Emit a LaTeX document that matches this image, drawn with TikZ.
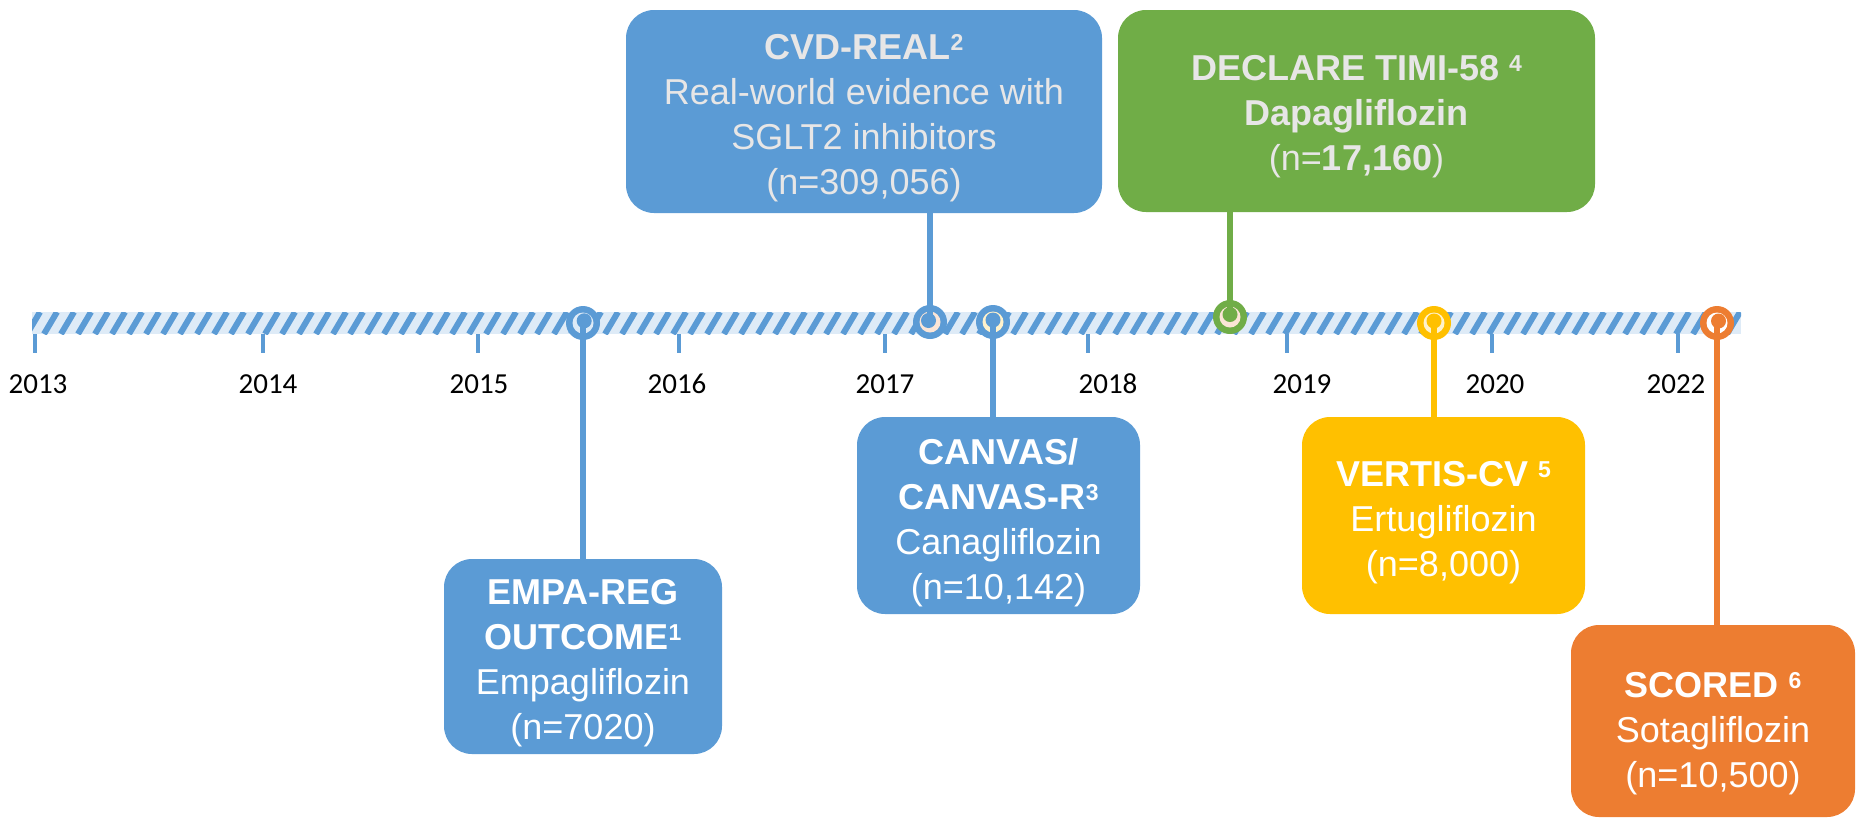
\documentclass[tikz,border=0pt]{standalone}
\usepackage{fontspec}
\setmainfont{Liberation Sans}
\newfontfamily\yearfont{Carlito}
\definecolor{tlblue}{HTML}{5B9BD5}
\definecolor{tlgreen}{HTML}{70AD47}
\definecolor{tlyellow}{HTML}{FFC000}
\definecolor{tlorange}{HTML}{ED7D31}
\definecolor{barlight}{HTML}{DEEBF7}
\definecolor{peach}{HTML}{FBE5D6}
\definecolor{cream}{HTML}{FFF2CC}
\definecolor{paletext}{HTML}{E7E6E6}
\newcommand\sups[1]{\raisebox{9pt}{\fontsize{23}{23}\selectfont #1}}
\tikzset{
  trialbox/.style={rectangle, rounded corners=28pt, inner sep=0pt},
  trialtext/.style={inner sep=0pt, align=center, text=white,
    font=\fontsize{36}{45}\selectfont},
  pin/.style={circle, inner sep=0pt, minimum size=34pt},
  stem/.style={line width=5.5pt},
  tick/.style={tlblue, line width=4pt},
  yearlabel/.style={font=\yearfont\fontsize{29}{32}\selectfont, text=black, inner sep=0pt}
}
\begin{document}
\begin{tikzpicture}[x=1pt, y=-1pt]
\useasboundingbox (0,0) rectangle (1862,820);

% hatched time bar
\fill[barlight] (32,312) rectangle (1741,334);
\begin{scope}
  \clip (32,312) rectangle (1741,334);
  \foreach \x in {10,27,...,1760}
    \draw[tlblue, line width=6pt] (\x,334) -- ++(13,-22);
\end{scope}

% year ticks and labels
\foreach \tx/\lx/\yr in {35/38/2013, 263/268/2014, 478/479/2015, 679/677/2016,
                         885/885/2017, 1088/1108/2018, 1287/1302/2019,
                         1492/1495/2020, 1678/1676/2022}{
  \draw[tick] (\tx,334) -- (\tx,353);
  \node[yearlabel] (y\yr) at (\lx,384) {\yr};
}

% trial boxes
\node[trialbox, fill=tlblue, minimum width=476pt, minimum height=203pt]
  (cvd) at (864,111.5) {};
\node[trialbox, fill=tlgreen, minimum width=477pt, minimum height=202pt]
  (declare) at (1356.5,111) {};
\node[trialbox, fill=tlblue, minimum width=278pt, minimum height=195pt]
  (empa) at (583,656.5) {};
\node[trialbox, fill=tlblue, minimum width=283pt, minimum height=197pt]
  (canvas) at (998.5,515.5) {};
\node[trialbox, fill=tlyellow, minimum width=283pt, minimum height=197pt]
  (vertis) at (1443.5,515.5) {};
\node[trialbox, fill=tlorange, minimum width=284pt, minimum height=192pt]
  (scored) at (1713,721) {};

% box texts
\node[trialtext, text=paletext] (cvdtext) at (864,118)
  {{\bfseries CVD-REAL\sups{2}}\\Real-world evidence with\\SGLT2 inhibitors\\(n=309,056)};
\node[trialtext, text=paletext] (declaretext) at (1356.5,117)
  {{\bfseries DECLARE TIMI-58 \sups{4}}\\{\bfseries Dapagliflozin}\\(n={\bfseries 17,160})};
\node[trialtext] (empatext) at (583,663)
  {{\bfseries EMPA-REG}\\{\bfseries OUTCOME\sups{1}}\\Empagliflozin\\(n=7020)};
\node[trialtext] (canvastext) at (998.5,523)
  {{\bfseries CANVAS/}\\{\bfseries CANVAS-R\sups{3}}\\Canagliflozin\\(n=10,142)};
\node[trialtext] (vertistext) at (1443.5,523)
  {{\bfseries VERTIS-CV \sups{5}}\\Ertugliflozin\\(n=8,000)};
\node[trialtext] (scoredtext) at (1713,734)
  {{\bfseries SCORED \sups{6}}\\Sotagliflozin\\(n=10,500)};

% pins on the time bar: outer disc, pale crescent, inner disc
\foreach \n/\px/\py/\col/\pale/\dx/\dy in {
    m1/583/323/tlblue/barlight/1.2/-2.2,
    m2/930/322/tlblue/peach/-1.5/-1.5,
    m3/993/322/tlblue/cream/0/-2,
    m4/1230/317/tlgreen/peach/0/-2.5,
    m5/1434/323/tlyellow/cream/0/-2,
    m6/1717/323/tlorange/white/1.5/-2}{
  \node[pin, fill=\col] (\n) at (\px,\py) {};
  \fill[\pale] (\n.center) circle (10.5pt);
  \fill[\col] ([shift={(\dx,\dy)}]\n.center) circle (7.5pt);
}

% stems from pins to boxes
\draw[stem, tlblue] (m1.center) -- (m1.center |- empa.north);
\draw[stem, tlblue] (m2.center) -- (m2.center |- cvd.south);
\draw[stem, tlblue] (m3.center) -- (m3.center |- canvas.north);
\draw[stem, tlgreen] (m4.center) -- (m4.center |- declare.south);
\draw[stem, tlyellow] (m5.center) -- (m5.center |- vertis.north);
\draw[stem, tlorange] (m6.center) -- (m6.center |- scored.north);
\end{tikzpicture}
\end{document}
